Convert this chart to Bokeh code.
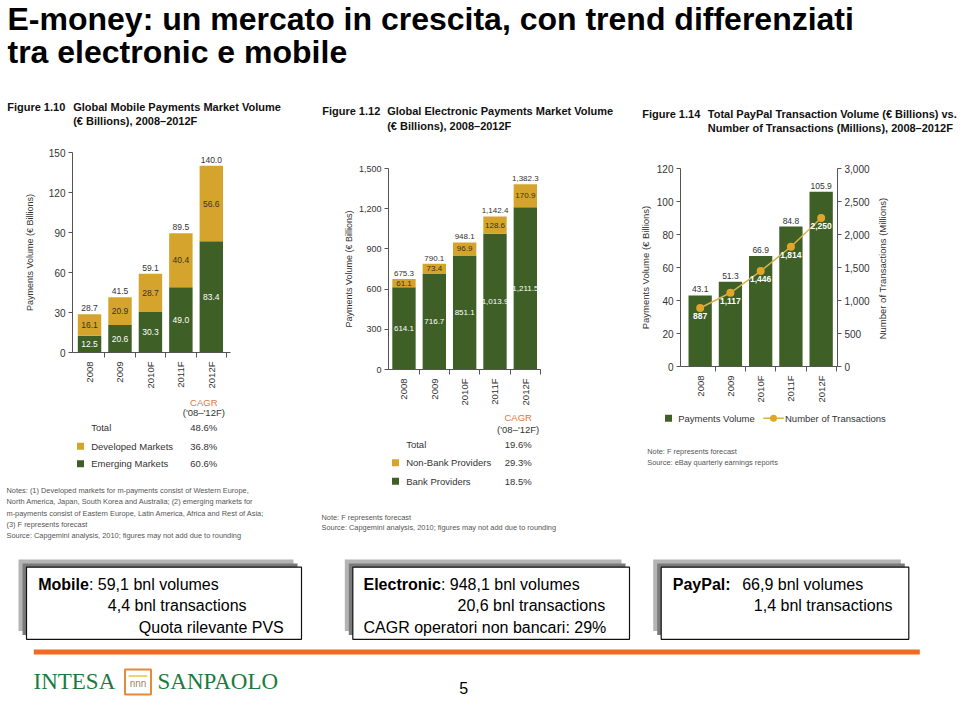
import math
from bokeh.plotting import figure
from bokeh.layouts import column, row
from bokeh.models import Range1d, LinearAxis, FixedTicker, NumeralTickFormatter, ColumnDataSource, Plot
from bokeh.embed import file_html
from bokeh.resources import INLINE
from bokeh.core.properties import value

FONT = "Liberation Sans"
SERIF = "Liberation Serif"
GREEN = "#3e5f26"
GOLD = "#d4a42c"
LINE_GOLD = "#d6b24a"
DARK = "#333333"
NOTE = "#555555"
TITLE = "#111111"
CAGR_COLOR = "#e0773f"
ORANGE = "#f26a21"
LOGO_GREEN = "#1b7a3e"

EXTRA = {"frame_align": False} if "frame_align" in Plot.properties() else {}

# ---------------- data ----------------
years = ["2008", "2009", "2010F", "2011F", "2012F"]

mobile_emerging = [12.5, 20.6, 30.3, 49.0, 83.4]
mobile_developed = [16.1, 20.9, 28.7, 40.4, 56.6]
mobile_total = [28.7, 41.5, 59.1, 89.5, 140.0]
mobile_ticks = [0, 30, 60, 90, 120, 150]

electronic_bank = [614.1, 716.7, 851.1, 1013.9, 1211.5]
electronic_nonbank = [61.1, 73.4, 96.9, 128.6, 170.9]
electronic_total = [675.3, 790.1, 948.1, 1142.4, 1382.3]
electronic_ticks = [0, 300, 600, 900, 1200, 1500]

paypal_volume = [43.1, 51.3, 66.9, 84.8, 105.9]
paypal_transactions = [887, 1117, 1446, 1814, 2250]
paypal_volume_ticks = [0, 20, 40, 60, 80, 100, 120]
paypal_tx_ticks = [0, 500, 1000, 1500, 2000, 2500, 3000]

mobile_cagr_names = ["Total", "Developed Markets", "Emerging Markets"]
mobile_cagr = ["48.6%", "36.8%", "60.6%"]
electronic_cagr_names = ["Total", "Non-Bank Providers", "Bank Providers"]
electronic_cagr = ["19.6%", "29.3%", "18.5%"]


# ---------------- helpers ----------------
def canvas(w, h):
    p = figure(width=w, height=h, x_range=Range1d(0, w), y_range=Range1d(h, 0),
               x_axis_location=None, y_axis_location=None, toolbar_location=None,
               output_backend="svg", min_border=0, outline_line_color=None, **EXTRA)
    p.xgrid.visible = False
    p.ygrid.visible = False
    return p


def txt(p, x, y, s, size, color=DARK, bold=False, align="left", baseline="middle", font=FONT, angle=0.0):
    p.text(x=[x], y=[y], text=[s], text_font=value(font), text_font_size=f"{size}px",
           text_color=color, text_font_style="bold" if bold else "normal",
           text_align=align, text_baseline=baseline, angle=angle)


def style_axis(ax, size, label_size):
    ax.axis_line_color = "#555555"
    ax.major_tick_line_color = "#555555"
    ax.minor_tick_line_color = "#555555"
    ax.major_label_text_font = FONT
    ax.major_label_text_font_size = f"{size}px"
    ax.major_label_text_color = DARK
    ax.axis_label_text_font = FONT
    ax.axis_label_text_font_size = f"{label_size}px"
    ax.axis_label_text_font_style = "normal"
    ax.axis_label_text_color = DARK
    ax.major_tick_in = 0
    ax.major_tick_out = 4
    ax.minor_tick_in = 0
    ax.minor_tick_out = 0
    ax.major_label_standoff = 3


def chart(w, h, xr, yr, bl, br, bt, bb):
    p = figure(width=w, height=h, x_range=Range1d(*xr), y_range=Range1d(*yr),
               toolbar_location=None, output_backend="svg",
               min_border_left=bl, min_border_right=br, min_border_top=bt, min_border_bottom=bb,
               outline_line_color=None, **EXTRA)
    p.xgrid.visible = False
    p.ygrid.visible = False
    xa = p.xaxis[0]
    style_axis(xa, 9.5, 9)
    xa.ticker = FixedTicker(ticks=list(range(len(years))),
                            minor_ticks=[i + 0.5 for i in range(len(years))])
    xa.major_label_overrides = {i: y for i, y in enumerate(years)}
    xa.major_label_orientation = math.pi / 2
    xa.major_tick_out = 0
    xa.minor_tick_out = 5
    xa.major_label_standoff = 4
    return p


def bar_labels(p, xs, ys, labels, color, baseline="middle", y_offset=0, bold=False, size=8.5,
               y_range_name="default"):
    src = ColumnDataSource(dict(x=xs, y=ys, t=labels))
    p.text(x="x", y="y", text="t", source=src, text_font=value(FONT), text_font_size=f"{size}px",
           text_color=color, text_align="center", text_baseline=baseline, y_offset=y_offset,
           text_font_style="bold" if bold else "normal", y_range_name=y_range_name)


xs = list(range(len(years)))
BAR_W = 0.77

# ---------------- header (page y 0..94) ----------------
header = canvas(960, 94)
txt(header, 7, 18.5, "E-money: un mercato in crescita, con trend differenziati", 32, color="#000000", bold=True)
txt(header, 7, 51.5, "tra electronic e mobile", 32, color="#000000", bold=True)

# ---------------- column 1 : mobile (page x 0..310) ----------------
t1 = canvas(310, 46)
txt(t1, 6.7, 12.7, "Figure 1.10", 11, color=TITLE, bold=True)
txt(t1, 72.7, 12.7, "Global Mobile Payments Market Volume", 11, color=TITLE, bold=True)
txt(t1, 72.7, 26.5, "(€ Billions), 2008–2012F", 11, color=TITLE, bold=True)

c1 = chart(310, 252, (-0.56, 4.63), (0, 150), 72, 80, 12, 40)
ya = c1.yaxis[0]
style_axis(ya, 10, 9)
ya.ticker = FixedTicker(ticks=mobile_ticks)
ya.axis_label = "Payments Volume (€ Billions)"
ya.axis_label_standoff = 11
stack1 = [a + b for a, b in zip(mobile_emerging, mobile_developed)]
c1.vbar(x=xs, width=BAR_W, bottom=0, top=mobile_emerging, fill_color=GREEN, line_color=None)
c1.vbar(x=xs, width=BAR_W, bottom=mobile_emerging, top=stack1, fill_color=GOLD, line_color=None)
bar_labels(c1, xs, [v / 2 for v in mobile_emerging], [f"{v:.1f}" for v in mobile_emerging], "#ffffff")
bar_labels(c1, xs, [a + b / 2 for a, b in zip(mobile_emerging, mobile_developed)],
           [f"{v:.1f}" for v in mobile_developed], "#3a3222")
bar_labels(c1, xs, mobile_total, [f"{v:.1f}" for v in mobile_total], DARK, baseline="bottom", y_offset=-3)

l1 = canvas(310, 156)
txt(l1, 203.3, 9.7, "CAGR", 9.5, color=CAGR_COLOR, align="center")
txt(l1, 203.3, 19.7, "('08–'12F)", 9.5, align="center")
rows_y1 = [34.7, 53.7, 71.3]
for name, val, yy in zip(mobile_cagr_names, mobile_cagr, rows_y1):
    txt(l1, 90.7, yy, name, 9.5)
    txt(l1, 203.3, yy, val, 9.5, align="center")
l1.rect(x=[80, 80], y=rows_y1[1:], width=7, height=7, fill_color=[GOLD, GREEN], line_color=None)
notes1 = ["Notes: (1) Developed markets for m-payments consist of Western Europe,",
          "North America, Japan, South Korea and Australia; (2) emerging markets for",
          "m-payments consist of Eastern Europe, Latin America, Africa and Rest of Asia;",
          "(3) F represents forecast",
          "Source: Capgemini analysis, 2010; figures may not add due to rounding"]
for s, yy in zip(notes1, [98, 109.3, 120.7, 132, 143.3]):
    txt(l1, 6, yy, s, 7.4, color=NOTE)

col1 = column(t1, c1, l1)

# ---------------- column 2 : electronic (page x 310..630) ----------------
t2 = canvas(320, 51)
txt(t2, 11.7, 16.7, "Figure 1.12", 11, color=TITLE, bold=True)
txt(t2, 76.7, 16.7, "Global Electronic Payments Market Volume", 11, color=TITLE, bold=True)
txt(t2, 76.7, 31, "(€ Billions), 2008–2012F", 11, color=TITLE, bold=True)

c2 = chart(320, 265, (-0.51, 4.5), (0, 1500), 78, 90, 23, 41)
ya = c2.yaxis[0]
style_axis(ya, 9, 9)
ya.ticker = FixedTicker(ticks=electronic_ticks)
ya.formatter = NumeralTickFormatter(format="0,0")
ya.axis_label = "Payments Volume (€ Billions)"
ya.axis_label_standoff = 2
stack2 = [a + b for a, b in zip(electronic_bank, electronic_nonbank)]
c2.vbar(x=xs, width=BAR_W, bottom=0, top=electronic_bank, fill_color=GREEN, line_color=None)
c2.vbar(x=xs, width=BAR_W, bottom=electronic_bank, top=stack2, fill_color=GOLD, line_color=None)
bar_labels(c2, xs, [v / 2 for v in electronic_bank], [f"{v:,.1f}" for v in electronic_bank], "#ffffff",
           size=8)
bar_labels(c2, xs, [a + b / 2 for a, b in zip(electronic_bank, electronic_nonbank)],
           [f"{v:,.1f}" for v in electronic_nonbank], "#3a3222", size=8)
bar_labels(c2, xs, electronic_total, [f"{v:,.1f}" for v in electronic_total], DARK,
           baseline="bottom", y_offset=-3, size=8)

l2 = canvas(320, 138)
txt(l2, 207.7, 7.3, "CAGR", 9.5, color=CAGR_COLOR, align="center")
txt(l2, 207.7, 19.3, "('08–'12F)", 9.5, align="center")
rows_y2 = [34, 52.3, 70.7]
for name, val, yy in zip(electronic_cagr_names, electronic_cagr, rows_y2):
    txt(l2, 95.7, yy, name, 9.5)
    txt(l2, 207.7, yy, val, 9.5, align="center")
l2.rect(x=[85, 85], y=rows_y2[1:], width=7, height=7, fill_color=[GOLD, GREEN], line_color=None)
txt(l2, 11, 106.7, "Note: F represents forecast", 7.4, color=NOTE)
txt(l2, 11, 117.3, "Source: Capgemini analysis, 2010; figures may not add due to rounding", 7.4, color=NOTE)

col2 = column(t2, c2, l2)

# ---------------- column 3 : PayPal (page x 630..960) ----------------
t3 = canvas(330, 56)
txt(t3, 11.7, 19, "Figure 1.14", 11, color=TITLE, bold=True)
txt(t3, 77.3, 19, "Total PayPal Transaction Volume (€ Billions) vs.", 11, color=TITLE, bold=True)
txt(t3, 77.3, 33.3, "Number of Transactions (Millions), 2008–2012F", 11, color=TITLE, bold=True)

c3 = chart(245, 255, (-0.65, 4.54), (0, 120), 50, 38, 18, 37)
ya = c3.yaxis[0]
style_axis(ya, 10, 9.5)
ya.ticker = FixedTicker(ticks=paypal_volume_ticks)
ya.axis_label = "Payments Volume (€ Billions)"
ya.axis_label_standoff = 3
c3.extra_y_ranges = {"tx": Range1d(0, 3000)}
ax2 = LinearAxis(y_range_name="tx")
style_axis(ax2, 10, 9.5)
ax2.ticker = FixedTicker(ticks=paypal_tx_ticks)
ax2.formatter = NumeralTickFormatter(format="0,0")
c3.add_layout(ax2, "right")
c3.vbar(x=xs, width=BAR_W, bottom=0, top=paypal_volume, fill_color=GREEN, line_color=None)
c3.line(x=xs, y=paypal_transactions, y_range_name="tx", line_color=LINE_GOLD, line_width=1.5)
c3.scatter(x=xs, y=paypal_transactions, y_range_name="tx", size=8, fill_color="#e0a52a", line_color=None)
bar_labels(c3, xs, paypal_volume, [f"{v:.1f}" for v in paypal_volume], DARK, baseline="bottom", y_offset=-3)
bar_labels(c3, xs, paypal_transactions, [f"{v:,.0f}" for v in paypal_transactions], "#ffffff",
           baseline="top", y_offset=5, bold=True, size=8.5, y_range_name="tx")

# right axis title, in its own strip beside the chart (reads bottom to top)
lab3 = canvas(85, 255)
txt(lab3, 6.7, 118, "Number of Transactions (Millions)", 9.5, align="center", angle=math.pi / 2)

l3 = canvas(330, 143)
l3.rect(x=[38], y=[12.7], width=7, height=7, fill_color=GREEN, line_color=None)
txt(l3, 47.7, 12.7, "Payments Volume", 9.5)
l3.line(x=[132.7, 153.3], y=[12.7, 12.7], line_color=LINE_GOLD, line_width=1.5)
l3.scatter(x=[143], y=[12.7], size=7, fill_color="#e0a52a", line_color=None)
txt(l3, 154.5, 12.7, "Number of Transactions", 9.5)
txt(l3, 16.7, 46, "Note: F represents forecast", 7.4, color=NOTE)
txt(l3, 16.7, 56.7, "Source: eBay quarterly earnings reports", 7.4, color=NOTE)

col3 = column(t3, row(c3, lab3), l3)

# ---------------- footer (page y 548..701) ----------------
foot = canvas(960, 153)
boxes = [(26, 301), (352.3, 629), (660.7, 908.3)]
for (bx0, bx1) in boxes:
    foot.quad(left=[bx0 - 8], right=[bx1 - 8], top=[11], bottom=[82.5], fill_color="#b4b4b4", line_color=None)
    foot.quad(left=[bx0 - 4], right=[bx1 - 4], top=[15], bottom=[86.5], fill_color="#7a7a7a", line_color=None)
    foot.quad(left=[bx0], right=[bx1], top=[18.7], bottom=[90.8], fill_color="#ffffff",
              line_color="#111111", line_width=1.2)

BOX_FS = 16
txt(foot, 37.7, 36.3, "Mobile", BOX_FS, color="#000000", bold=True)
txt(foot, 88.4, 36.3, ": 59,1 bnl volumes", BOX_FS, color="#000000")
txt(foot, 107.3, 57.3, "4,4 bnl transactions", BOX_FS, color="#000000")
txt(foot, 138.3, 79, "Quota rilevante PVS", BOX_FS, color="#000000")

txt(foot, 363, 36.3, "Electronic", BOX_FS, color="#000000", bold=True)
txt(foot, 440.4, 36.3, ": 948,1 bnl volumes", BOX_FS, color="#000000")
txt(foot, 457, 57.3, "20,6 bnl transactions", BOX_FS, color="#000000")
txt(foot, 363, 79, "CAGR operatori non bancari: 29%", BOX_FS, color="#000000")

txt(foot, 672.3, 36.3, "PayPal:", BOX_FS, color="#000000", bold=True)
txt(foot, 741.7, 36.3, "66,9 bnl volumes", BOX_FS, color="#000000")
txt(foot, 753.3, 57.3, "1,4 bnl transactions", BOX_FS, color="#000000")

foot.line(x=[33.3, 919.3], y=[103.5, 103.5], line_color=ORANGE, line_width=5)

txt(foot, 33, 133, "INTESA", 23, color=LOGO_GREEN, font=SERIF)
txt(foot, 157, 133, "SANPAOLO", 23, color=LOGO_GREEN, font=SERIF)
foot.quad(left=[124.5], right=[150.5], top=[121], bottom=[146], fill_color="#ffffff",
          line_color="#e58a3c", line_width=2)
foot.line(x=[128, 147], y=[127.5, 127.5], line_color="#e8c94a", line_width=1.5)
txt(foot, 137.5, 134.5, "nnn", 10, color="#a08a66", align="center")
txt(foot, 463.3, 139, "5", 16, color="#000000", align="center")

layout = column(header, row(col1, col2, col3), foot)

open("out.html", "w").write(file_html(layout, INLINE))
